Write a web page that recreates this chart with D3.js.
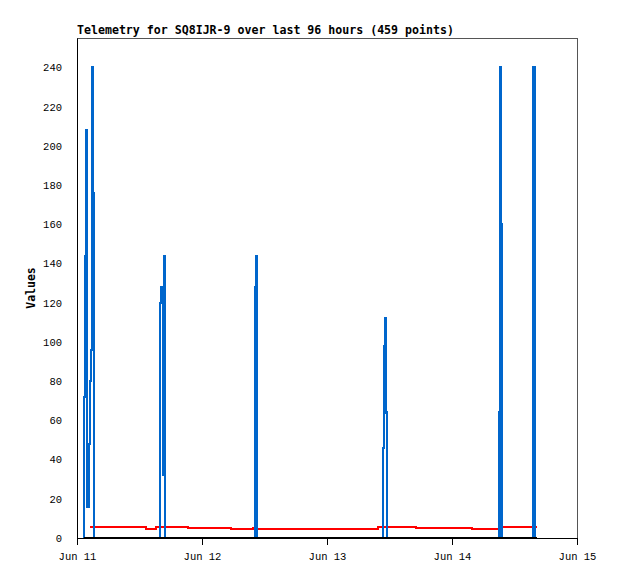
<!DOCTYPE html>
<html>
<head>
<meta charset="utf-8">
<script src="https://cdn.jsdelivr.net/npm/d3@7"></script>
<style>
  body { margin: 0; background: #fff; }
  .tick text { font-family: "Liberation Mono", monospace; font-size: 10.5px; fill: #000; }
  .title { font-family: "DejaVu Sans Mono", monospace; font-weight: bold; font-size: 11.6px; }
  .labels { font-family: "DejaVu Sans Mono", monospace; font-weight: bold; font-size: 11.5px; }
</style>
</head>
<body>
<svg width="618" height="579"></svg>
<script>
// Data: hours since Jun 11 00:00 (UTC)
const blueHours = [
  1.34, 1.40, 1.59, 1.79, 1.98, 2.30, 2.50, 2.69, 2.82, 3.03, 3.28,
  15.99, 16.19, 16.47, 16.55, 16.76, 16.95,
  34.10, 34.23, 34.41, 34.60,
  58.73, 58.87, 59.02, 59.19, 59.37, 59.56,
  81.08, 81.20, 81.37, 81.52,
  87.49, 87.86, 88.2
];
const blueValues = [
  0, 72, 144, 208, 16, 48, 80, 96, 240, 176, 0,
  120, 128, 96, 32, 144, 0,
  40, 128, 144, 0,
  46, 72, 98, 112, 64, 0,
  64, 240, 160, 0,
  240, 0, 0
];
const redHours = [2.4, 13.2, 15.1, 21.4, 29.6, 33.7, 34.2, 57.8, 65.0, 75.9, 81.6, 88.3];
const redValues = [5.8, 4.8, 5.8, 5.3, 4.8, 5.3, 4.8, 5.8, 5.3, 4.8, 5.6, 5.6];
const blackHours = [1.3, 88.3];
const blackValues = [0, 0];
const yTicks = [0, 20, 40, 60, 80, 100, 120, 140, 160, 180, 200, 220, 240];

const svg = d3.select('svg');
const margin = { left: 77, right: 41, top: 38, bottom: 41 };
const width = +svg.attr('width');
const height = +svg.attr('height');
const innerWidth = width - margin.left - margin.right;
const innerHeight = height - margin.top - margin.bottom;

const start = Date.UTC(2024, 5, 11);
const toDate = h => new Date(start + h * 3600e3);
const zip = (hs, vs) => hs.map((h, i) => ({ t: toDate(h), v: vs[i] }));

const xScale = d3.scaleUtc()
  .domain([toDate(0), toDate(96)])
  .range([0, innerWidth]);
const yScale = d3.scaleLinear()
  .domain([0, 255])
  .range([innerHeight, 0]);

const g = svg.append('g')
  .attr('transform', `translate(${margin.left},${margin.top})`);

// frame
g.append('rect')
  .attr('width', innerWidth)
  .attr('height', innerHeight)
  .attr('fill', 'none')
  .attr('stroke', '#555')
  .attr('shape-rendering', 'crispEdges');

const line = d3.line().x(d => xScale(d.t)).y(d => yScale(d.v));

// red step series
g.append('path')
  .datum(zip(redHours, redValues))
  .attr('fill', 'none')
  .attr('stroke', '#ff0000')
  .attr('stroke-width', 2)
  .attr('shape-rendering', 'crispEdges')
  .attr('d', line.curve(d3.curveStepAfter));

// blue spikes
g.append('path')
  .datum(zip(blueHours, blueValues))
  .attr('fill', 'none')
  .attr('stroke', '#0066cc')
  .attr('stroke-width', 2.2)
  .attr('shape-rendering', 'crispEdges')
  .attr('d', line.curve(d3.curveStepAfter));

// black series along zero
g.append('path')
  .datum(zip(blackHours, blackValues))
  .attr('fill', 'none')
  .attr('stroke', '#000')
  .attr('stroke-width', 2)
  .attr('shape-rendering', 'crispEdges')
  .attr('d', line.curve(d3.curveLinear));

// x axis
const xAxis = d3.axisBottom(xScale)
  .ticks(d3.utcDay.every(1))
  .tickFormat(d3.utcFormat('%b %d'))
  .tickSize(7)
  .tickPadding(8);
const xAxisGroup = g.append('g')
  .attr('transform', `translate(0,${innerHeight})`)
  .call(xAxis);
xAxisGroup.select('.domain').attr('stroke', '#000');

// y axis
const yAxis = d3.axisLeft(yScale)
  .tickValues(yTicks)
  .tickSize(0)
  .tickPadding(15);
const yAxisGroup = g.append('g').call(yAxis);
yAxisGroup.select('.domain').attr('stroke', '#000');

yAxisGroup.append('text')
  .attr('class', 'labels')
  .attr('x', -innerHeight / 2)
  .attr('y', -42)
  .attr('fill', '#000')
  .attr('text-anchor', 'middle')
  .attr('transform', 'rotate(-90)')
  .text('Values');

// title
g.append('text')
  .attr('class', 'title')
  .attr('x', 0)
  .attr('y', -4)
  .text('Telemetry for SQ8IJR-9 over last 96 hours (459 points)');
</script>
</body>
</html>
